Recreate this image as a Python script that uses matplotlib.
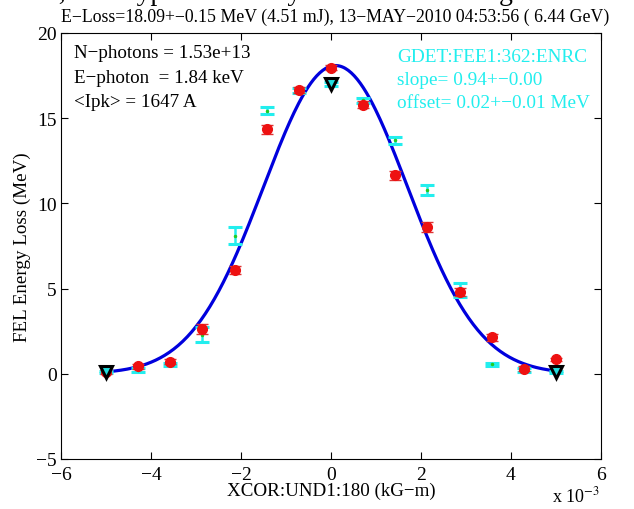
import matplotlib
matplotlib.use("Agg")
import matplotlib.pyplot as plt
import numpy as np

plt.rcParams["font.family"] = ["Liberation Serif", "DejaVu Serif"]
plt.rcParams["mathtext.fontset"] = "stix"

# corrector setting, units of 1e-3 kG-m
xcor = [-5.0, -4.29, -3.57, -2.86, -2.14, -1.43, -0.71, 0.0,
        0.71, 1.43, 2.14, 2.86, 3.57, 4.29, 5.0]

# e-loss from reference measurement (red)
eloss_red = [0.1, 0.45, 0.7, 2.65, 6.1, 14.35, 16.65, 17.95,
             15.8, 11.65, 8.6, 4.8, 2.15, 0.3, 0.85]
err_red = [0.1, 0.15, 0.15, 0.3, 0.25, 0.25, 0.2, 0.15,
           0.2, 0.25, 0.3, 0.25, 0.2, 0.15, 0.1]

# gas detector GDET:FEE1:362:ENRC (cyan)
eloss_gdet = [0.12, 0.22, 0.55, 2.3, 8.1, 15.45, 16.6, 17.0,
              16.05, 13.7, 10.8, 4.9, 0.55, 0.22, 0.12]
err_gdet = [0.05, 0.1, 0.1, 0.45, 0.5, 0.2, 0.15, 0.1,
            0.15, 0.2, 0.3, 0.4, 0.1, 0.1, 0.05]

# reference (unkicked) points
x_ref = [-5.0, 0.0, 5.0]
y_ref = [0.12, 17.0, 0.12]

# gaussian fit parameters
fit_amp = 18.09
fit_mu = 0.1
fit_sig = 1.6

title = "E\u2212Loss=18.09+\u22120.15 MeV (4.51 mJ), 13\u2212MAY\u22122010 04:53:56 ( 6.44 GeV)"

fig = plt.figure(figsize=(6.34, 5.10), dpi=100)
ax = fig.add_axes([61 / 634, 50 / 510, 540 / 634, 426 / 510])

xf = np.linspace(-5, 5, 300)
ax.plot(xf, fit_amp * np.exp(-(xf - fit_mu) ** 2 / (2 * fit_sig ** 2)),
        color="#0000dd", lw=2.3, zorder=2)

ax.errorbar(xcor, eloss_gdet, yerr=err_gdet, fmt="none", ecolor="#22eeee",
            elinewidth=1.8, capsize=5, capthick=2.2, zorder=3)
ax.plot(xcor, eloss_gdet, ".", color="#22cc22", ms=3, zorder=4)
ax.errorbar(xcor, eloss_red, yerr=err_red, fmt="o", color="#ee1111",
            ms=7, ecolor="#dd3333", elinewidth=1, capsize=4, zorder=5)
ax.plot(x_ref, y_ref, "v", ms=9, mfc="#22dddd", mec="black", mew=2.2,
        zorder=6)

ax.set_xlim(-6, 6)
ax.set_ylim(-5, 20)
ax.set_xticks(np.arange(-6, 7, 2))
ax.set_yticks(np.arange(-5, 21, 5))
ax.set_xticklabels(["\u2212%d" % -v if v < 0 else "%d" % v
                    for v in range(-6, 7, 2)])
ax.set_yticklabels(["\u2212%d" % -v if v < 0 else "%d" % v
                    for v in range(-5, 21, 5)])
ax.tick_params(direction="in", top=True, right=True, labelsize=14,
               length=5)
ax.tick_params(axis="x", pad=5)
ax.tick_params(axis="y", pad=3)
for s in ax.spines.values():
    s.set_linewidth(0.8)

ax.set_xlabel("XCOR:UND1:180 (kG\u2212m)", fontsize=13.7, labelpad=-1)
ax.set_ylabel("FEL Energy Loss (MeV)", fontsize=13.7, labelpad=4)
fig.text(0.528, 0.966, title, ha="center", va="center", fontsize=12.8)
fig.text(0.908, 0.027, "x 10$^{-3}$", ha="center", va="center", fontsize=13)

# cropped line of the surrounding document
fig.text(0.0, 1.012, "RMS, with typical stability in the 3\u201310% range.",
         ha="left", va="center", fontsize=20)

left_txt = ["N\u2212photons = 1.53e+13", "E\u2212photon  = 1.84 keV",
            "<Ipk> = 1647 A"]
right_txt = ["GDET:FEE1:362:ENRC", "slope= 0.94+\u22120.00",
             "offset= 0.02+\u22120.01 MeV"]
for i, t in enumerate(left_txt):
    fig.text(74 / 634, 1 - (54 + 24.5 * i) / 510, t, ha="left", va="center",
             fontsize=13.7)
for i, t in enumerate(right_txt):
    fig.text(397 / 634, 1 - (57 + 23.5 * i) / 510, t, ha="left", va="center",
             fontsize=13.9, color="#22eeee")

fig.savefig("out.png", dpi=100)
